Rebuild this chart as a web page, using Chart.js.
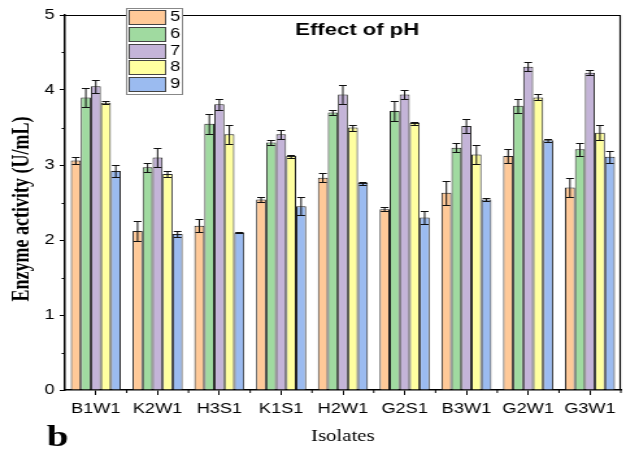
<!DOCTYPE html>
<html>
<head>
<meta charset="utf-8">
<script src="https://cdn.jsdelivr.net/npm/chart.js@4"></script>
<style>
  html, body { margin: 0; padding: 0; background: #fff; }
</style>
</head>
<body>
<!-- drawn narrow, shown wide: the figure's lettering is stretched sideways -->
<canvas id="phChart" width="482" height="449" style="width:626px;height:449px;display:block"></canvas>
<script>
// Enzyme activity of each isolate at pH 5-9 (mean and error)
const isolates = ['B1W1', 'K2W1', 'H3S1', 'K1S1', 'H2W1', 'G2S1', 'B3W1', 'G2W1', 'G3W1'];
const phLabels = ['5', '6', '7', '8', '9'];

const ph5 = [3.06, 2.12, 2.19, 2.54, 2.83, 2.41, 2.63, 3.12, 2.70];
const ph6 = [3.90, 2.97, 3.55, 3.30, 3.70, 3.72, 3.23, 3.79, 3.21];
const ph7 = [4.05, 3.10, 3.81, 3.41, 3.94, 3.94, 3.52, 4.31, 4.23];
const ph8 = [3.83, 2.88, 3.41, 3.12, 3.50, 3.56, 3.14, 3.90, 3.43];
const ph9 = [2.92, 2.08, 2.10, 2.45, 2.76, 2.30, 2.54, 3.33, 3.11];

const err5 = [0.05, 0.13, 0.09, 0.03, 0.06, 0.03, 0.16, 0.09, 0.13];
const err6 = [0.13, 0.06, 0.13, 0.03, 0.03, 0.13, 0.06, 0.09, 0.09];
const err7 = [0.09, 0.13, 0.07, 0.06, 0.13, 0.06, 0.09, 0.06, 0.03];
const err8 = [0.02, 0.04, 0.13, 0.02, 0.04, 0.02, 0.13, 0.04, 0.10];
const err9 = [0.08, 0.04, 0.01, 0.12, 0.02, 0.09, 0.02, 0.02, 0.08];

const yTicks = [0, 1, 2, 3, 4, 5];

const BAR_COLORS = [
  'rgb(255, 201, 152)',  // orange
  'rgb(160, 218, 160)',  // green
  'rgb(196, 180, 216)',  // lavender
  'rgb(255, 255, 160)',  // pale yellow
  'rgb(155, 187, 240)'   // light blue
];

const SANS = '"Liberation Sans", Arial, sans-serif';
const SERIF = '"Liberation Serif", "Times New Roman", serif';

const series = [ph5, ph6, ph7, ph8, ph9];
const errors = [err5, err6, err7, err8, err9];

// error bars with caps, centred on each bar top
const errorBars = {
  id: 'errorBars',
  afterDatasetsDraw(chart) {
    const ctx = chart.ctx;
    const y = chart.scales.y;
    ctx.save();
    ctx.strokeStyle = '#111';
    ctx.lineWidth = 1;
    chart.data.datasets.forEach((ds, i) => {
      const meta = chart.getDatasetMeta(i);
      meta.data.forEach((bar, j) => {
        const v = ds.data[j];
        const e = ds.errors[j];
        const top = Math.round(y.getPixelForValue(v + e)) + 0.5;
        const bot = Math.round(y.getPixelForValue(v - e)) + 0.5;
        const x = bar.x;
        ctx.beginPath();
        ctx.moveTo(x, top); ctx.lineTo(x, bot);
        ctx.moveTo(x - 3, top); ctx.lineTo(x + 3, top);
        ctx.moveTo(x - 3, bot); ctx.lineTo(x + 3, bot);
        ctx.stroke();
      });
    });
    ctx.restore();
  }
};

// frame, minor ticks, titles and the boxed legend
const decorations = {
  id: 'decorations',
  afterDraw(chart) {
    const ctx = chart.ctx;
    const a = chart.chartArea;
    const ys = chart.scales.y;
    ctx.save();

    // top and right edges of the frame
    ctx.strokeStyle = '#000';
    ctx.lineWidth = 1.2;
    ctx.beginPath();
    ctx.moveTo(a.left, a.top + 0.5);
    ctx.lineTo(a.right - 0.5, a.top + 0.5);
    ctx.lineTo(a.right - 0.5, a.bottom);
    ctx.stroke();

    // minor ticks: half units on y, category edges on x
    ctx.lineWidth = 1;
    ctx.beginPath();
    for (let k = 0; k < yTicks.length - 1; k++) {
      const py = Math.round(ys.getPixelForValue(yTicks[k] + 0.5)) + 0.5;
      ctx.moveTo(a.left, py); ctx.lineTo(a.left - 2.5, py);
    }
    const step = (a.right - a.left) / isolates.length;
    for (let k = 1; k <= isolates.length; k++) {
      const px = a.left + step * k;
      ctx.moveTo(px, a.bottom); ctx.lineTo(px, a.bottom + 3);
    }
    ctx.stroke();

    ctx.fillStyle = '#000';
    ctx.textBaseline = 'middle';
    ctx.textAlign = 'center';

    ctx.font = 'bold 17px ' + SANS;
    ctx.fillText('Effect of pH', 275, 30);

    ctx.font = '16px ' + SERIF;
    ctx.fillText('Isolates', (a.left + a.right) / 2, 437);

    ctx.save();
    ctx.translate(17, 209);
    ctx.rotate(-Math.PI / 2);
    ctx.font = 'bold 18px ' + SERIF;
    ctx.fillText('Enzyme activity (U/mL)', 0, 0);
    ctx.restore();

    ctx.textAlign = 'left';
    ctx.textBaseline = 'alphabetic';
    ctx.font = 'bold 30px ' + SERIF;
    ctx.fillText('b', 36, 446);

    // legend
    ctx.fillStyle = '#fff';
    ctx.fillRect(97, 8, 43, 86);
    ctx.strokeStyle = '#888';
    ctx.lineWidth = 1;
    ctx.strokeRect(97.5, 8.5, 43, 86);
    const rowTops = [10, 27, 44, 60, 77];
    ctx.font = '14px ' + SANS;
    ctx.textBaseline = 'middle';
    phLabels.forEach((lab, i) => {
      ctx.fillStyle = BAR_COLORS[i];
      ctx.fillRect(99, rowTops[i], 28, 14);
      ctx.strokeStyle = '#444';
      ctx.strokeRect(99.5, rowTops[i] + 0.5, 28, 14);
      ctx.fillStyle = '#000';
      ctx.fillText(lab, 131, rowTops[i] + 7.5);
    });

    ctx.restore();
  }
};

new Chart(document.getElementById('phChart'), {
  type: 'bar',
  data: {
    labels: isolates,
    datasets: series.map((vals, i) => ({
      label: phLabels[i],
      data: vals,
      errors: errors[i],
      backgroundColor: BAR_COLORS[i],
      borderColor: '#222',
      borderWidth: 1,
      categoryPercentage: 0.81,
      barPercentage: 1.0
    }))
  },
  options: {
    responsive: false,
    animation: false,
    layout: { padding: { top: 15, right: 4, left: 0, bottom: 0 } },
    plugins: {
      legend: { display: false },
      title: { display: false },
      tooltip: { enabled: false }
    },
    scales: {
      x: {
        offset: true,
        grid: { offset: false, drawOnChartArea: false, drawTicks: true, tickLength: 5, tickColor: '#000', tickWidth: 1 },
        border: { color: '#000', width: 1.5 },
        ticks: { color: '#000', font: { family: SANS, size: 14 }, padding: 6, maxRotation: 0, autoSkip: false },
        afterFit(scale) { scale.height = 59; }
      },
      y: {
        min: yTicks[0],
        max: yTicks[yTicks.length - 1],
        grid: { drawOnChartArea: false, drawTicks: true, tickLength: 4, tickColor: '#000', tickWidth: 1 },
        border: { color: '#000', width: 1.5 },
        ticks: { stepSize: 1, color: '#000', font: { family: SANS, size: 14 }, padding: 4 },
        afterFit(scale) { scale.width = 50; }
      }
    }
  },
  plugins: [errorBars, decorations]
});
</script>
</body>
</html>
